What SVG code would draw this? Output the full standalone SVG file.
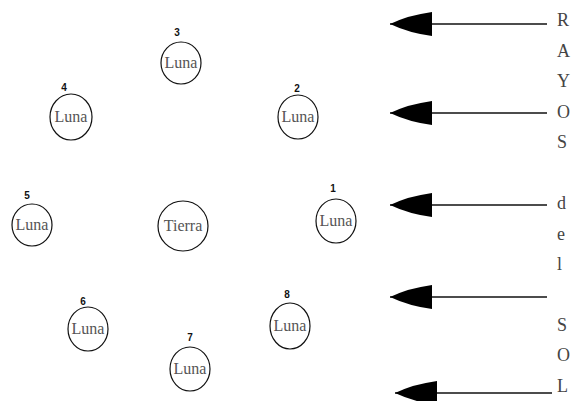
<svg xmlns="http://www.w3.org/2000/svg" width="579" height="401" viewBox="0 0 579 401">
<style>
.c{fill:#fff;stroke:#111;stroke-width:1.2}
.t{font-family:"Liberation Serif",serif;font-size:16px;fill:#555;text-anchor:middle}
.n{font-family:"Liberation Sans",sans-serif;font-size:10px;font-weight:bold;fill:#111;text-anchor:middle}
.l{font-family:"Liberation Serif",serif;font-size:18px;fill:#444}
.a{stroke:#111;stroke-width:1.5;fill:none}
</style>
<defs>
<marker id="ah" markerWidth="44" markerHeight="26" refX="43" refY="13" orient="auto" markerUnits="userSpaceOnUse">
<path d="M1,1 L1,25 Q24,22 43,13 Q24,4 1,1 Z" fill="#000"/>
</marker>
</defs>
<rect width="579" height="401" fill="#fff"/>
<g id="tierra"><circle class="c" cx="183" cy="226" r="25"/><text class="t" x="183" y="231">Tierra</text></g>
<g id="luna1"><ellipse class="c" cx="336" cy="221" rx="20" ry="22"/><text class="t" x="336" y="226">Luna</text><text class="n" x="333" y="192">1</text></g>
<g id="luna2"><ellipse class="c" cx="298" cy="117" rx="20" ry="22"/><text class="t" x="298" y="122">Luna</text><text class="n" x="297" y="92">2</text></g>
<g id="luna3"><ellipse class="c" cx="181" cy="63" rx="20" ry="21"/><text class="t" x="181" y="68">Luna</text><text class="n" x="177" y="36">3</text></g>
<g id="luna4"><ellipse class="c" cx="71" cy="117" rx="21" ry="23"/><text class="t" x="71" y="122">Luna</text><text class="n" x="64" y="91">4</text></g>
<g id="luna5"><ellipse class="c" cx="32" cy="225" rx="20" ry="21"/><text class="t" x="32" y="230">Luna</text><text class="n" x="27" y="199">5</text></g>
<g id="luna6"><ellipse class="c" cx="88" cy="329" rx="20" ry="22"/><text class="t" x="88" y="334">Luna</text><text class="n" x="83" y="305">6</text></g>
<g id="luna7"><ellipse class="c" cx="190" cy="369" rx="20" ry="22"/><text class="t" x="190" y="374">Luna</text><text class="n" x="190" y="341">7</text></g>
<g id="luna8"><ellipse class="c" cx="290" cy="326" rx="20" ry="23"/><text class="t" x="290" y="331">Luna</text><text class="n" x="287" y="298">8</text></g>
<g id="rayos">
<line class="a" x1="547" y1="24" x2="390" y2="24" marker-end="url(#ah)"/>
<line class="a" x1="547" y1="113" x2="390" y2="113" marker-end="url(#ah)"/>
<line class="a" x1="547" y1="205" x2="390" y2="205" marker-end="url(#ah)"/>
<line class="a" x1="547" y1="297" x2="390" y2="297" marker-end="url(#ah)"/>
<line class="a" x1="552" y1="393" x2="395" y2="393" marker-end="url(#ah)"/>
</g>
<g id="label">
<text class="l" x="557" y="26">R</text>
<text class="l" x="557" y="57">A</text>
<text class="l" x="557" y="87">Y</text>
<text class="l" x="557" y="118">O</text>
<text class="l" x="557" y="148">S</text>
<text class="l" x="557" y="209">d</text>
<text class="l" x="557" y="240">e</text>
<text class="l" x="557" y="270">l</text>
<text class="l" x="557" y="331">S</text>
<text class="l" x="557" y="361">O</text>
<text class="l" x="557" y="392">L</text>
</g>
</svg>
